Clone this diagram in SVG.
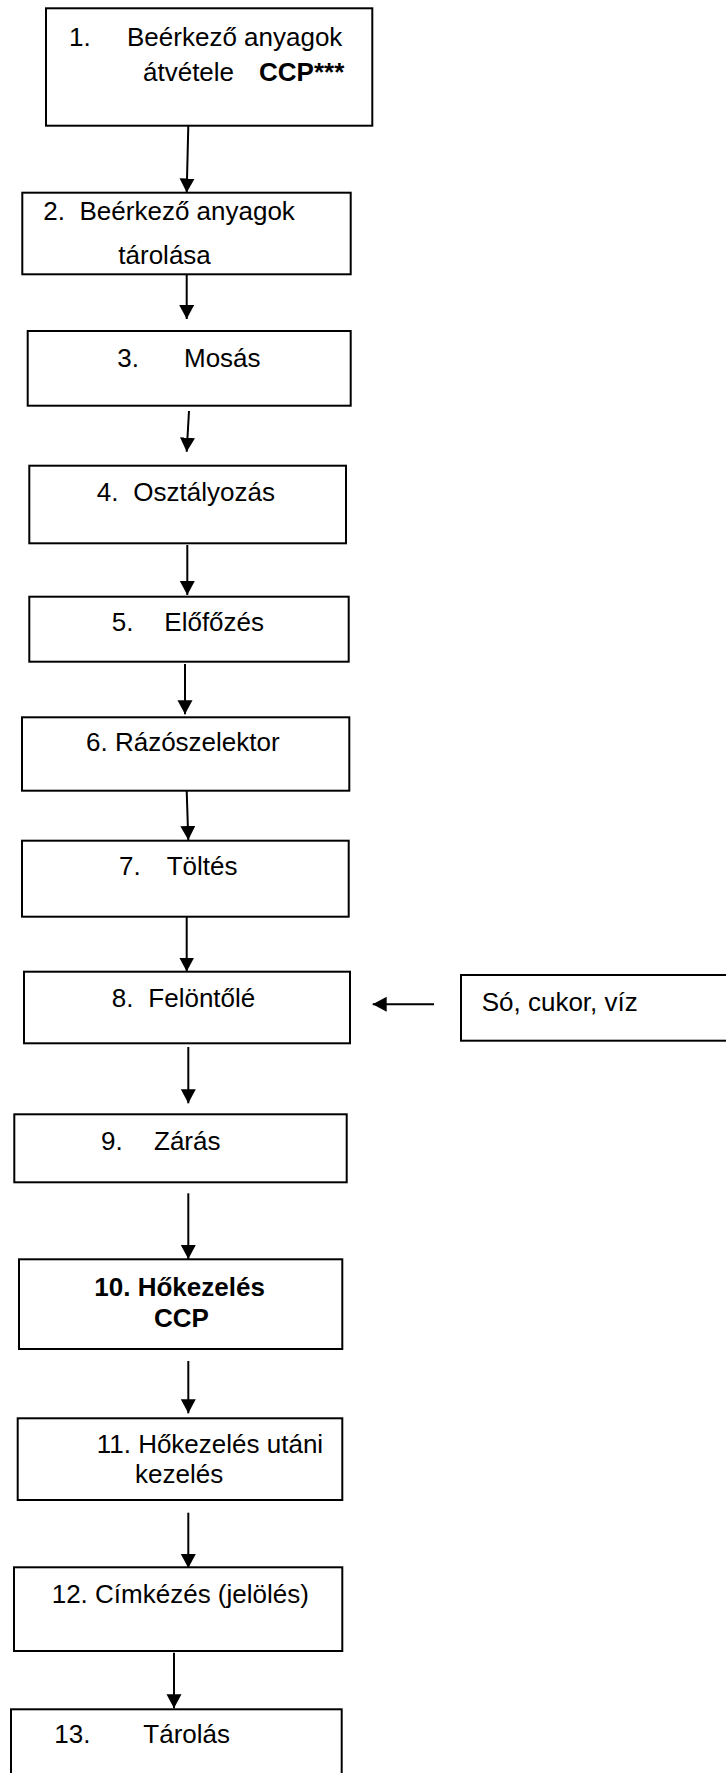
<svg xmlns="http://www.w3.org/2000/svg" width="726" height="1773" viewBox="0 0 726 1773">
<style>
.box{fill:#fff;stroke:#000;stroke-width:2}
.t{font-family:"Liberation Sans",Arial,sans-serif;font-size:26px;fill:#000}
.b{font-weight:bold}
.c{stroke:#000;stroke-width:2;fill:none;marker-end:url(#ah)}
</style>
<defs>
<marker id="ah" markerUnits="userSpaceOnUse" markerWidth="15" markerHeight="16" refX="14" refY="7.5" orient="auto">
<path d="M0,0 L14,7.5 L0,15 z" fill="#000"/>
</marker>
</defs>
<rect x="0" y="0" width="726" height="1773" fill="#fff"/>
<g id="connectors">
<line class="c" x1="188.3" y1="126" x2="186.7" y2="192.5"/>
<line class="c" x1="186.7" y1="275" x2="186.7" y2="319"/>
<line class="c" x1="189" y1="411" x2="186.7" y2="451.7"/>
<line class="c" x1="187.3" y1="545" x2="187.3" y2="595"/>
<line class="c" x1="185" y1="664" x2="185" y2="714.3"/>
<line class="c" x1="186.7" y1="791" x2="188.3" y2="840"/>
<line class="c" x1="186.7" y1="917" x2="186.7" y2="971.5"/>
<line class="c" x1="188.3" y1="1047" x2="188.3" y2="1103.3"/>
<line class="c" x1="188.3" y1="1193.3" x2="188.3" y2="1259"/>
<line class="c" x1="188.3" y1="1361" x2="188.3" y2="1413.3"/>
<line class="c" x1="188.3" y1="1512.7" x2="188.3" y2="1568"/>
<line class="c" x1="174" y1="1652.7" x2="174" y2="1708.3"/>
<line class="c" x1="434" y1="1004.3" x2="372.7" y2="1004.3"/>
</g>
<g id="n1">
<rect class="box" x="46" y="8.3" width="326.3" height="117.4"/>
<text class="t" x="69" y="46">1.</text>
<text class="t" x="127" y="46">Beérkező anyagok</text>
<text class="t" x="143" y="81">átvétele</text>
<text class="t b" x="259" y="81">CCP***</text>
</g>
<g id="n2">
<rect class="box" x="22.3" y="192.7" width="328.4" height="81.6"/>
<text class="t" x="43.3" y="220">2.</text>
<text class="t" x="79.5" y="220">Beérkező anyagok</text>
<text class="t" x="118.3" y="264">tárolása</text>
</g>
<g id="n3">
<rect class="box" x="27.7" y="331" width="323" height="74.7"/>
<text class="t" x="117.3" y="366.7">3.</text>
<text class="t" x="184" y="366.7">Mosás</text>
</g>
<g id="n4">
<rect class="box" x="29.3" y="465.7" width="316.7" height="77.6"/>
<text class="t" x="96.7" y="500.7">4.</text>
<text class="t" x="133.3" y="500.7">Osztályozás</text>
</g>
<g id="n5">
<rect class="box" x="29.3" y="596.7" width="319.4" height="65"/>
<text class="t" x="111.7" y="631">5.</text>
<text class="t" x="164.3" y="631">Előfőzés</text>
</g>
<g id="n6">
<rect class="box" x="22" y="717.3" width="327.3" height="73.4"/>
<text class="t" x="86" y="751">6. Rázószelektor</text>
</g>
<g id="n7">
<rect class="box" x="22" y="840.7" width="326.7" height="76"/>
<text class="t" x="119" y="875">7.</text>
<text class="t" x="166.7" y="875">Töltés</text>
</g>
<g id="n8">
<rect class="box" x="24" y="971.7" width="326" height="71.6"/>
<text class="t" x="111.7" y="1006.7">8.</text>
<text class="t" x="148.3" y="1006.7">Felöntőlé</text>
</g>
<g id="n_so">
<rect class="box" x="461" y="975" width="266" height="65.7"/>
<text class="t" x="481.7" y="1011">Só, cukor, víz</text>
</g>
<g id="n9">
<rect class="box" x="14.3" y="1114.3" width="332.4" height="68"/>
<text class="t" x="101" y="1150">9.</text>
<text class="t" x="154" y="1150">Zárás</text>
</g>
<g id="n10">
<rect class="box" x="19" y="1259.3" width="323.3" height="89.7"/>
<text class="t b" x="94.3" y="1295.7">10. Hőkezelés</text>
<text class="t b" x="154" y="1327.3">CCP</text>
</g>
<g id="n11">
<rect class="box" x="17.7" y="1418.3" width="324.6" height="81.7"/>
<text class="t" x="96.7" y="1453.3">11. Hőkezelés utáni</text>
<text class="t" x="135" y="1483.3">kezelés</text>
</g>
<g id="n12">
<rect class="box" x="14" y="1567.3" width="328.3" height="83.7"/>
<text class="t" x="51.7" y="1602.7">12. Címkézés (jelölés)</text>
</g>
<g id="n13">
<rect class="box" x="11" y="1709.3" width="330.7" height="80"/>
<text class="t" x="54.3" y="1743.3">13.</text>
<text class="t" x="143.3" y="1743.3">Tárolás</text>
</g>
</svg>
